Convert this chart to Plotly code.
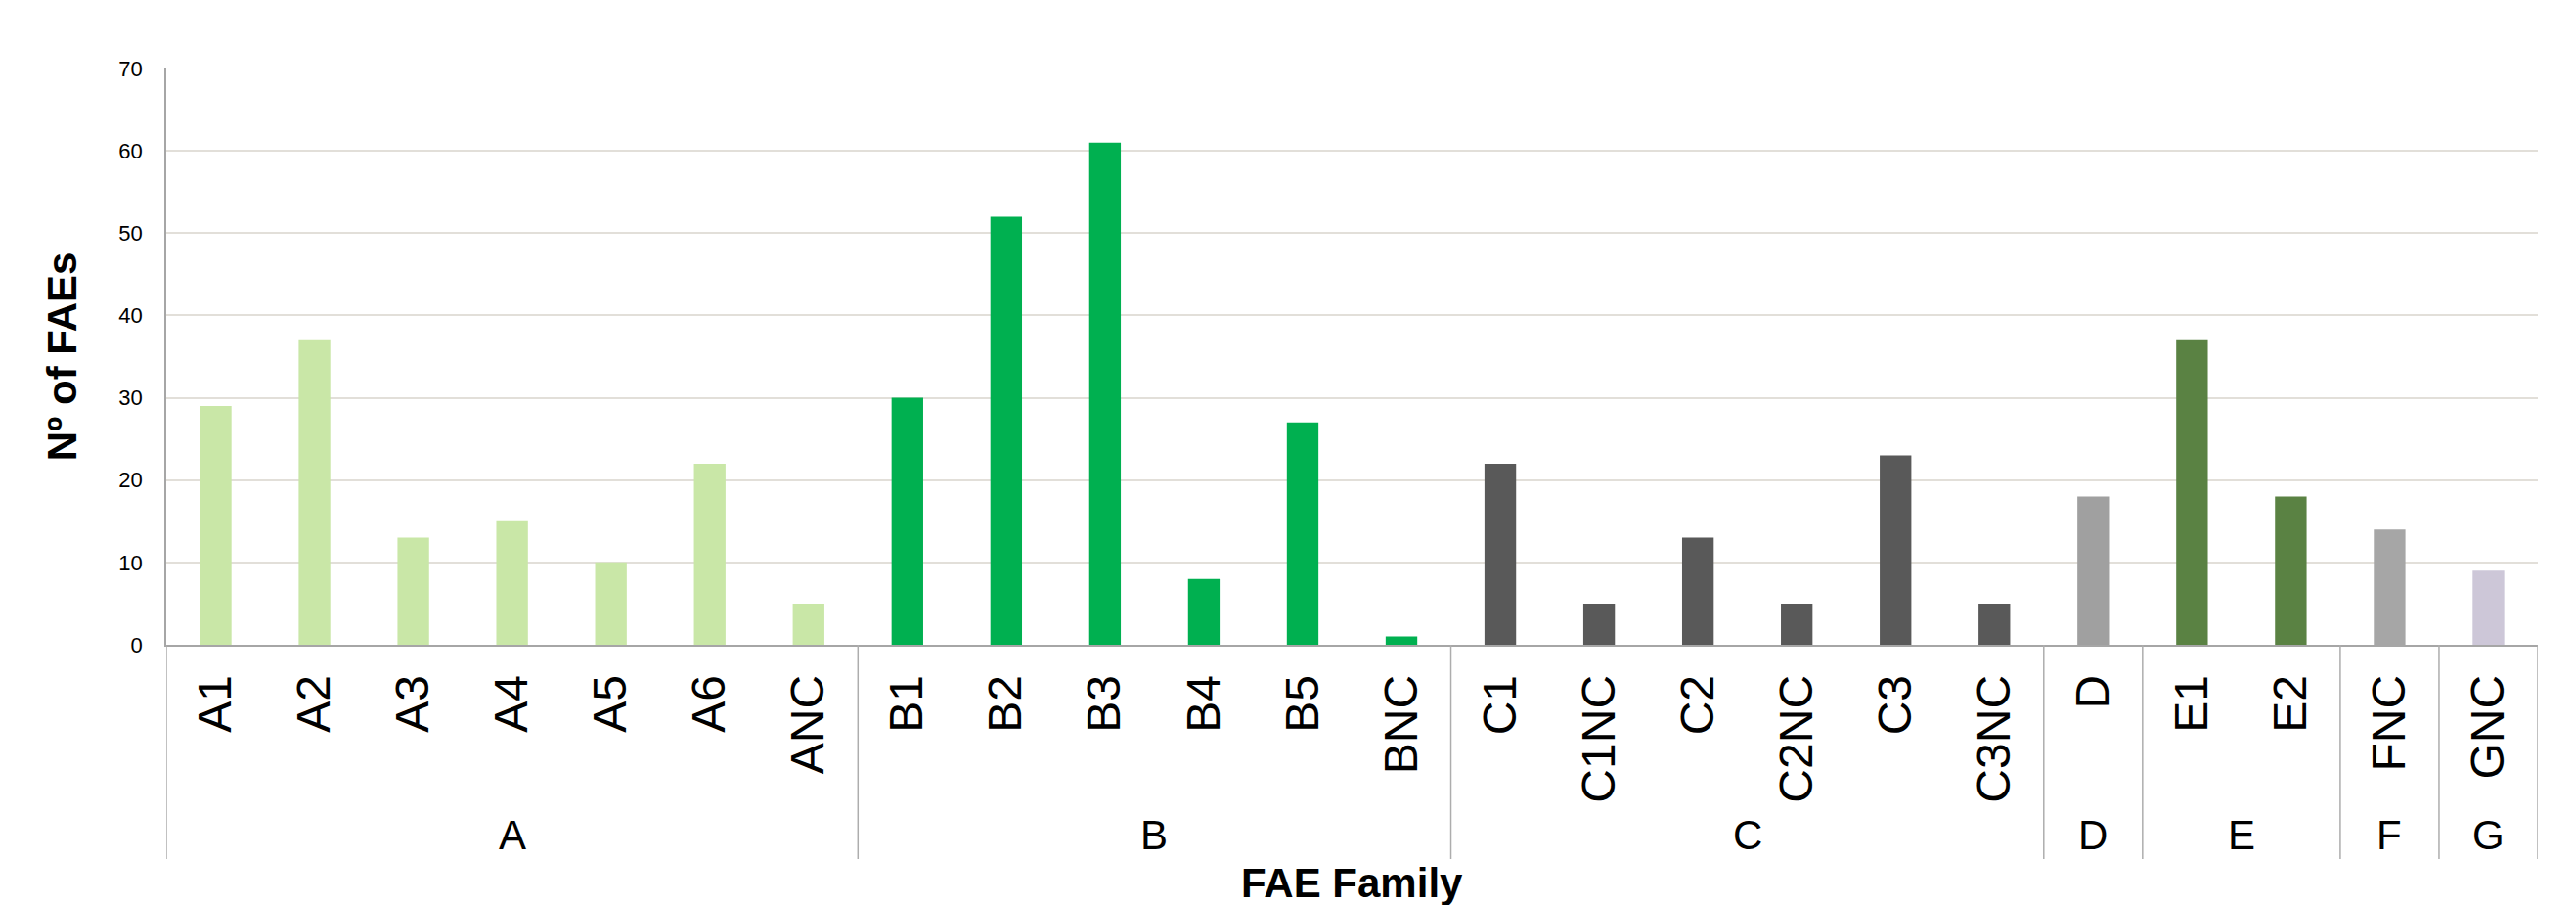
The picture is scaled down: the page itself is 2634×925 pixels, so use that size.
import plotly.graph_objects as go

categories = ["A1", "A2", "A3", "A4", "A5", "A6", "ANC",
              "B1", "B2", "B3", "B4", "B5", "BNC",
              "C1", "C1NC", "C2", "C2NC", "C3", "C3NC",
              "D", "E1", "E2", "FNC", "GNC"]
groups = ["A"] * 7 + ["B"] * 6 + ["C"] * 6 + ["D"] + ["E"] * 2 + ["F"] + ["G"]
values = [29, 37, 13, 15, 10, 22, 5,
          30, 52, 61, 8, 27, 1,
          22, 5, 13, 5, 23, 5,
          18, 37, 18, 14, 9]
group_names = ["A", "B", "C", "D", "E", "F", "G"]
y_ticks = [0, 10, 20, 30, 40, 50, 60, 70]

group_colors = {"A": "#C9E7A7", "B": "#00B050", "C": "#595959", "D": "#A0A0A0",
                "E": "#5A8243", "F": "#A6A6A6", "G": "#CDC7D8"}

W, H = 2634, 925
M_L, M_R, M_T, M_B = 170, 39, 70, 266
plot_h = H - M_T - M_B


def py(px):
    """pixel row -> paper y"""
    return (H - M_B - px) / plot_h


fig = go.Figure(go.Bar(
    x=list(range(len(categories))), y=values,
    marker=dict(color=[group_colors[g] for g in groups], line=dict(width=0)),
    width=0.32,
))

# group dividers and labels
idx_by_group = {g: [i for i, gg in enumerate(groups) if gg == g] for g in group_names}
bounds = [-0.5] + [max(idx_by_group[g]) + 0.5 for g in group_names]
for b in bounds:
    fig.add_shape(type="line", xref="x", yref="paper", x0=b, x1=b, y0=0, y1=py(878),
                  line=dict(color="#ADADAD", width=1.5), layer="above")
for g in group_names:
    ids = idx_by_group[g]
    fig.add_annotation(x=(min(ids) + max(ids)) / 2, y=py(853), xref="x", yref="paper",
                       text=g, showarrow=False, yanchor="middle", xanchor="center",
                       font=dict(family="Liberation Sans, Arial, sans-serif", size=42, color="black"))

fig.add_annotation(x=0.5, y=py(902), xref="paper", yref="paper", text="<b>FAE Family</b>",
                   showarrow=False, yanchor="middle", xanchor="center",
                   font=dict(family="Liberation Sans, Arial, sans-serif", size=42, color="black"))

fig.update_layout(
    width=W, height=H,
    margin=dict(l=M_L, r=M_R, t=M_T, b=M_B, autoexpand=False),
    paper_bgcolor="white", plot_bgcolor="white",
    showlegend=False,
    font=dict(family="Liberation Sans, Arial, sans-serif", color="black"),
    xaxis=dict(
        tickmode="array", tickvals=list(range(len(categories))), ticktext=categories,
        range=[-0.5, len(categories) - 0.5],
        tickangle=-90,
        tickfont=dict(family="Liberation Sans Narrow, Arial Narrow, Liberation Sans, sans-serif", size=48, color="black"),
        showline=True, linecolor="#A6A6A6", linewidth=1.5,
        showgrid=False, zeroline=False, ticks="", automargin=False,
        ticklabelstandoff=10,
    ),
    yaxis=dict(
        range=[0, 70], tickmode="array", tickvals=y_ticks,
        tickfont=dict(family="Liberation Sans, Arial, sans-serif", size=22, color="black"),
        showline=True, linecolor="#A6A6A6", linewidth=1.5,
        showgrid=True, gridcolor="#E2DFD9", gridwidth=2,
        zeroline=False, ticks="", automargin=False,
        ticklabelstandoff=18,
        title=dict(text="<b>Nº of FAEs</b>", standoff=30,
                   font=dict(family="Liberation Sans, Arial, sans-serif", size=42, color="black")),
    ),
)

fig.write_html("out.html")
